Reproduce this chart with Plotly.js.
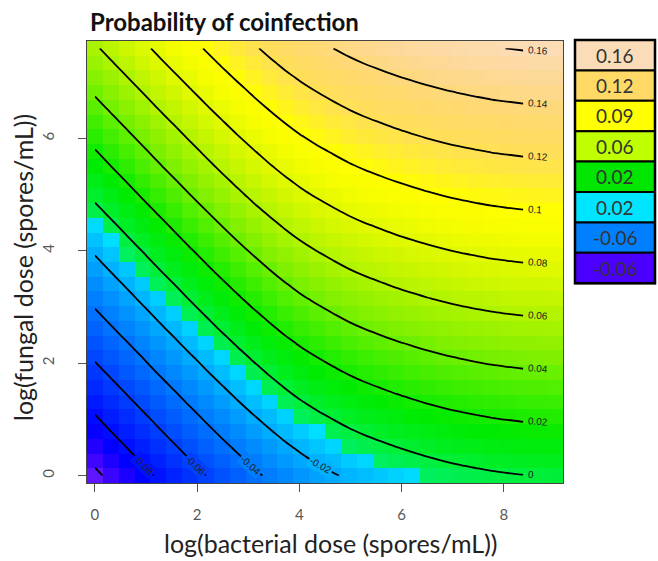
<!DOCTYPE html>
<html>
<head>
<meta charset="utf-8">
<script src="https://cdn.plot.ly/plotly-3.0.1.min.js"></script>
<style>html,body{margin:0;padding:0;background:#fff;}#chart{width:658px;height:561px;}</style>
</head>
<body>
<div id="chart"></div>
<script>
// log(bacterial dose) grid (columns) and log(fungal dose) grid (rows)
const bacterialDose = [0, 0.31, 0.621, 0.931, 1.241, 1.552, 1.862, 2.172, 2.483, 2.793, 3.103, 3.414, 3.724, 4.034, 4.345, 4.655, 4.966, 5.276, 5.586, 5.897, 6.207, 6.517, 6.828, 7.138, 7.448, 7.759, 8.069, 8.379, 8.69, 9.0];
const fungalDose = [0, 0.262, 0.524, 0.786, 1.048, 1.31, 1.572, 1.834, 2.097, 2.359, 2.621, 2.883, 3.145, 3.407, 3.669, 3.931, 4.193, 4.455, 4.717, 4.979, 5.241, 5.503, 5.766, 6.028, 6.29, 6.552, 6.814, 7.076, 7.338, 7.6];

// probability of coinfection, one row per fungal dose (bottom to top)
const probability = [
[-0.1030,-0.0968,-0.0906,-0.0844,-0.0782,-0.0721,-0.0660,-0.0600,-0.0541,-0.0484,-0.0429,-0.0377,-0.0328,-0.0284,-0.0246,-0.0212,-0.0180,-0.0153,-0.0130,-0.0108,-0.0089,-0.0071,-0.0055,-0.0041,-0.0029,-0.0018,-0.0010,-0.0003,0.0002,0.0006],
[-0.0974,-0.0912,-0.0850,-0.0788,-0.0726,-0.0665,-0.0604,-0.0544,-0.0485,-0.0428,-0.0373,-0.0321,-0.0272,-0.0228,-0.0190,-0.0156,-0.0124,-0.0097,-0.0074,-0.0052,-0.0033,-0.0015,0.0001,0.0015,0.0027,0.0038,0.0046,0.0053,0.0058,0.0062],
[-0.0919,-0.0857,-0.0795,-0.0733,-0.0671,-0.0610,-0.0549,-0.0489,-0.0430,-0.0373,-0.0318,-0.0266,-0.0217,-0.0173,-0.0135,-0.0101,-0.0069,-0.0042,-0.0019,0.0003,0.0022,0.0040,0.0056,0.0070,0.0082,0.0093,0.0101,0.0108,0.0113,0.0117],
[-0.0863,-0.0801,-0.0739,-0.0677,-0.0615,-0.0554,-0.0493,-0.0433,-0.0374,-0.0317,-0.0262,-0.0210,-0.0161,-0.0117,-0.0079,-0.0045,-0.0013,0.0014,0.0037,0.0059,0.0078,0.0096,0.0112,0.0126,0.0138,0.0149,0.0157,0.0164,0.0169,0.0173],
[-0.0808,-0.0746,-0.0684,-0.0622,-0.0560,-0.0499,-0.0438,-0.0378,-0.0319,-0.0262,-0.0207,-0.0155,-0.0106,-0.0062,-0.0024,0.0010,0.0042,0.0069,0.0092,0.0114,0.0133,0.0151,0.0167,0.0181,0.0193,0.0204,0.0212,0.0219,0.0224,0.0228],
[-0.0752,-0.0690,-0.0628,-0.0566,-0.0504,-0.0443,-0.0382,-0.0322,-0.0263,-0.0206,-0.0151,-0.0099,-0.0050,-0.0006,0.0032,0.0066,0.0098,0.0125,0.0148,0.0170,0.0189,0.0207,0.0223,0.0237,0.0249,0.0260,0.0268,0.0275,0.0280,0.0284],
[-0.0697,-0.0635,-0.0573,-0.0511,-0.0449,-0.0388,-0.0327,-0.0267,-0.0208,-0.0151,-0.0096,-0.0044,0.0005,0.0049,0.0087,0.0121,0.0153,0.0180,0.0203,0.0225,0.0244,0.0262,0.0278,0.0292,0.0304,0.0315,0.0323,0.0330,0.0335,0.0339],
[-0.0641,-0.0579,-0.0517,-0.0455,-0.0393,-0.0332,-0.0271,-0.0211,-0.0152,-0.0095,-0.0040,0.0012,0.0061,0.0105,0.0143,0.0177,0.0209,0.0236,0.0259,0.0281,0.0300,0.0318,0.0334,0.0348,0.0360,0.0371,0.0379,0.0386,0.0391,0.0395],
[-0.0586,-0.0524,-0.0462,-0.0400,-0.0338,-0.0277,-0.0216,-0.0156,-0.0097,-0.0040,0.0015,0.0067,0.0116,0.0160,0.0198,0.0232,0.0264,0.0291,0.0314,0.0336,0.0355,0.0373,0.0389,0.0403,0.0415,0.0426,0.0434,0.0441,0.0446,0.0450],
[-0.0530,-0.0468,-0.0406,-0.0344,-0.0282,-0.0221,-0.0160,-0.0100,-0.0041,0.0016,0.0071,0.0123,0.0172,0.0216,0.0254,0.0288,0.0320,0.0347,0.0370,0.0392,0.0411,0.0429,0.0445,0.0459,0.0471,0.0482,0.0490,0.0497,0.0502,0.0506],
[-0.0474,-0.0412,-0.0350,-0.0288,-0.0226,-0.0165,-0.0104,-0.0044,0.0015,0.0072,0.0127,0.0179,0.0228,0.0272,0.0310,0.0344,0.0376,0.0403,0.0426,0.0448,0.0467,0.0485,0.0501,0.0515,0.0527,0.0538,0.0546,0.0553,0.0558,0.0562],
[-0.0419,-0.0357,-0.0295,-0.0233,-0.0171,-0.0110,-0.0049,0.0011,0.0070,0.0127,0.0182,0.0234,0.0283,0.0327,0.0365,0.0399,0.0431,0.0458,0.0481,0.0503,0.0522,0.0540,0.0556,0.0570,0.0582,0.0593,0.0601,0.0608,0.0613,0.0617],
[-0.0363,-0.0301,-0.0239,-0.0177,-0.0115,-0.0054,0.0007,0.0067,0.0126,0.0183,0.0238,0.0290,0.0339,0.0383,0.0421,0.0455,0.0487,0.0514,0.0537,0.0559,0.0578,0.0596,0.0612,0.0626,0.0638,0.0649,0.0657,0.0664,0.0669,0.0673],
[-0.0308,-0.0246,-0.0184,-0.0122,-0.0060,0.0001,0.0062,0.0122,0.0181,0.0238,0.0293,0.0345,0.0394,0.0438,0.0476,0.0510,0.0542,0.0569,0.0592,0.0614,0.0633,0.0651,0.0667,0.0681,0.0693,0.0704,0.0712,0.0719,0.0724,0.0728],
[-0.0252,-0.0190,-0.0128,-0.0066,-0.0004,0.0057,0.0118,0.0178,0.0237,0.0294,0.0349,0.0401,0.0450,0.0494,0.0532,0.0566,0.0598,0.0625,0.0648,0.0670,0.0689,0.0707,0.0723,0.0737,0.0749,0.0760,0.0768,0.0775,0.0780,0.0784],
[-0.0197,-0.0135,-0.0073,-0.0011,0.0051,0.0112,0.0173,0.0233,0.0292,0.0349,0.0404,0.0456,0.0505,0.0549,0.0587,0.0621,0.0653,0.0680,0.0703,0.0725,0.0744,0.0762,0.0778,0.0792,0.0804,0.0815,0.0823,0.0830,0.0835,0.0839],
[-0.0141,-0.0079,-0.0017,0.0045,0.0107,0.0168,0.0229,0.0289,0.0348,0.0405,0.0460,0.0512,0.0561,0.0605,0.0643,0.0677,0.0709,0.0736,0.0759,0.0781,0.0800,0.0818,0.0834,0.0848,0.0860,0.0871,0.0879,0.0886,0.0891,0.0895],
[-0.0086,-0.0024,0.0038,0.0100,0.0162,0.0223,0.0284,0.0344,0.0403,0.0460,0.0515,0.0567,0.0616,0.0660,0.0698,0.0732,0.0764,0.0791,0.0814,0.0836,0.0855,0.0873,0.0889,0.0903,0.0915,0.0926,0.0934,0.0941,0.0946,0.0950],
[-0.0030,0.0032,0.0094,0.0156,0.0218,0.0279,0.0340,0.0400,0.0459,0.0516,0.0571,0.0623,0.0672,0.0716,0.0754,0.0788,0.0820,0.0847,0.0870,0.0892,0.0911,0.0929,0.0945,0.0959,0.0971,0.0982,0.0990,0.0997,0.1002,0.1006],
[0.0026,0.0088,0.0150,0.0212,0.0274,0.0335,0.0396,0.0456,0.0515,0.0572,0.0627,0.0679,0.0728,0.0772,0.0810,0.0844,0.0876,0.0903,0.0926,0.0948,0.0967,0.0985,0.1001,0.1015,0.1027,0.1038,0.1046,0.1053,0.1058,0.1062],
[0.0081,0.0143,0.0205,0.0267,0.0329,0.0390,0.0451,0.0511,0.0570,0.0627,0.0682,0.0734,0.0783,0.0827,0.0865,0.0899,0.0931,0.0958,0.0981,0.1003,0.1022,0.1040,0.1056,0.1070,0.1082,0.1093,0.1101,0.1108,0.1113,0.1117],
[0.0137,0.0199,0.0261,0.0323,0.0385,0.0446,0.0507,0.0567,0.0626,0.0683,0.0738,0.0790,0.0839,0.0883,0.0921,0.0955,0.0987,0.1014,0.1037,0.1059,0.1078,0.1096,0.1112,0.1126,0.1138,0.1149,0.1157,0.1164,0.1169,0.1173],
[0.0192,0.0254,0.0316,0.0378,0.0440,0.0501,0.0562,0.0622,0.0681,0.0738,0.0793,0.0845,0.0894,0.0938,0.0976,0.1010,0.1042,0.1069,0.1092,0.1114,0.1133,0.1151,0.1167,0.1181,0.1193,0.1204,0.1212,0.1219,0.1224,0.1228],
[0.0248,0.0310,0.0372,0.0434,0.0496,0.0557,0.0618,0.0678,0.0737,0.0794,0.0849,0.0901,0.0950,0.0994,0.1032,0.1066,0.1098,0.1125,0.1148,0.1170,0.1189,0.1207,0.1223,0.1237,0.1249,0.1260,0.1268,0.1275,0.1280,0.1284],
[0.0303,0.0365,0.0427,0.0489,0.0551,0.0612,0.0673,0.0733,0.0792,0.0849,0.0904,0.0956,0.1005,0.1049,0.1087,0.1121,0.1153,0.1180,0.1203,0.1225,0.1244,0.1262,0.1278,0.1292,0.1304,0.1315,0.1323,0.1330,0.1335,0.1339],
[0.0359,0.0421,0.0483,0.0545,0.0607,0.0668,0.0729,0.0789,0.0848,0.0905,0.0960,0.1012,0.1061,0.1105,0.1143,0.1177,0.1209,0.1236,0.1259,0.1281,0.1300,0.1318,0.1334,0.1348,0.1360,0.1371,0.1379,0.1386,0.1391,0.1395],
[0.0414,0.0476,0.0538,0.0600,0.0662,0.0723,0.0784,0.0844,0.0903,0.0960,0.1015,0.1067,0.1116,0.1160,0.1198,0.1232,0.1264,0.1291,0.1314,0.1336,0.1355,0.1373,0.1389,0.1403,0.1415,0.1426,0.1434,0.1441,0.1446,0.1450],
[0.0470,0.0532,0.0594,0.0656,0.0718,0.0779,0.0840,0.0900,0.0959,0.1016,0.1071,0.1123,0.1172,0.1216,0.1254,0.1288,0.1320,0.1347,0.1370,0.1392,0.1411,0.1429,0.1445,0.1459,0.1471,0.1482,0.1490,0.1497,0.1502,0.1506],
[0.0526,0.0588,0.0650,0.0712,0.0774,0.0835,0.0896,0.0956,0.1015,0.1072,0.1127,0.1179,0.1228,0.1272,0.1310,0.1344,0.1376,0.1403,0.1426,0.1448,0.1467,0.1485,0.1501,0.1515,0.1527,0.1538,0.1546,0.1553,0.1558,0.1562],
[0.0581,0.0643,0.0705,0.0767,0.0829,0.0890,0.0951,0.1011,0.1070,0.1127,0.1182,0.1234,0.1283,0.1327,0.1365,0.1399,0.1431,0.1458,0.1481,0.1503,0.1522,0.1540,0.1556,0.1570,0.1582,0.1593,0.1601,0.1608,0.1613,0.1617]
];

// contour levels that carry a label
const labelLevels = [-0.08, -0.06, -0.04, -0.02, 0, 0.02, 0.04, 0.06, 0.08, 0.1, 0.12, 0.14, 0.16];
const labelTexts  = ['-0.08', '-0.06', '-0.04', '-0.02', '0', '0.02', '0.04', '0.06', '0.08', '0.1', '0.12', '0.14', '0.16'];

// legend (as in the figure)
const legendLabels = ['0.16', '0.12', '0.09', '0.06', '0.02', '0.02', '-0.06', '-0.06'];
const legendColors = ['#FBDCB9', '#FFD966', '#FFFF00', '#BFFF00', '#00E600', '#00E5FF', '#0080FF', '#4B00FF'];

// ---- styling ----
const zmin = -0.105, zmax = 0.165;
const colorStops = [
  [-0.105, '#6A1AFF'], [-0.095, '#3000FF'], [-0.085, '#0000FF'], [-0.07, '#0028FF'],
  [-0.05, '#005CFF'], [-0.03, '#0090FF'], [-0.015, '#00BEFF'], [-0.0076, '#00E0FF'],
  [-0.0076, '#00F060'], [0.005, '#00EE20'], [0.015, '#00EB00'], [0.03, '#40EE00'],
  [0.045, '#80F000'], [0.06, '#B0F400'], [0.075, '#D8F800'], [0.09, '#F5FD00'],
  [0.10, '#FFFF00'], [0.11, '#FFEE30'], [0.12, '#FFE055'], [0.135, '#FFD970'],
  [0.15, '#FDD998'], [0.165, '#FCDDBC']
];
const colorscale = colorStops.map(([z, c], k) => {
  let p = (z - zmin) / (zmax - zmin);
  if (k === 0) p = 0;
  if (k === colorStops.length - 1) p = 1;
  return [Math.round(p * 1e6) / 1e6, c];
});

function hexToRgb(h) { return [parseInt(h.substr(1,2),16), parseInt(h.substr(3,2),16), parseInt(h.substr(5,2),16)]; }
function colorAt(z) {
  for (let k = 0; k < colorStops.length - 1; k++) {
    const [z0, c0] = colorStops[k], [z1, c1] = colorStops[k+1];
    if (z >= z0 && z < z1) {
      const t = (z - z0) / (z1 - z0);
      const a = hexToRgb(c0), b = hexToRgb(c1);
      return 'rgb(' + a.map((v, i) => Math.round(v + (b[i] - v) * t)).join(',') + ')';
    }
  }
  return colorStops[colorStops.length - 1][1];
}

// contour grid stops at the column before the labels
const lastCol = 27;
const contourX = bacterialDose.slice(0, lastCol + 1);
const contourZ = probability.map(r => r.slice(0, lastCol + 1));

// geometry
const W = 658, H = 561, mL = 87, mR = 95, mT = 41, mB = 78;
const plotW = W - mL - mR, plotH = H - mT - mB;
const xRange = [-0.155, 9.155], yRange = [-0.131, 7.731];
const sx = plotW / (xRange[1] - xRange[0]), sy = plotH / (yRange[1] - yRange[0]);
const px2paperX = px => (px - mL) / plotW;
const px2paperY = py => (H - mB - py) / plotH;

function labelAngle(i, j) {
  const i1 = Math.min(i + 1, bacterialDose.length - 1), i0 = i1 - 1;
  const j1 = Math.min(j + 1, fungalDose.length - 1), j0 = j1 - 1;
  const dzdx = (probability[j][i1] - probability[j][i0]) / (bacterialDose[i1] - bacterialDose[i0]);
  const dzdy = (probability[j1][i] - probability[j0][i]) / (fungalDose[j1] - fungalDose[j0]);
  return Math.atan2(dzdx * sy, dzdy * sx) * 180 / Math.PI;
}

const annotations = [];
const labelFont = {family: 'Liberation Sans, Arial, sans-serif', size: 10, color: '#222'};
labelLevels.forEach((L, k) => {
  // crossing along the last contour column
  let yc = null, jc = 0;
  for (let j = 0; j < fungalDose.length - 1; j++) {
    const a = probability[j][lastCol], b = probability[j+1][lastCol];
    if ((a - L) * (b - L) <= 0 && a !== b) {
      yc = fungalDose[j] + (L - a) / (b - a) * (fungalDose[j+1] - fungalDose[j]);
      jc = j; break;
    }
  }
  if (yc !== null) {
    annotations.push({x: bacterialDose[lastCol], y: yc, xref: 'x', yref: 'y', text: labelTexts[k],
      showarrow: false, xanchor: 'left', yanchor: 'middle', xshift: 2,
      textangle: labelAngle(lastCol, jc), font: labelFont});
  } else {
    // crossing along a line just above the bottom edge
    const yl = 0.18, t = (yl - fungalDose[0]) / (fungalDose[1] - fungalDose[0]);
    const row = probability[0].map((v, i) => v + (probability[1][i] - v) * t);
    for (let i = 0; i < row.length - 1; i++) {
      if ((row[i] - L) * (row[i+1] - L) <= 0 && row[i] !== row[i+1]) {
        const xc = bacterialDose[i] + (L - row[i]) / (row[i+1] - row[i]) * (bacterialDose[i+1] - bacterialDose[i]);
        const ci = Math.round(xc / (bacterialDose[1] - bacterialDose[0]));
        annotations.push({x: xc, y: yl, xref: 'x', yref: 'y', text: labelTexts[k],
          showarrow: false, xanchor: 'center', yanchor: 'middle',
          textangle: labelAngle(i, 0), font: labelFont,
          bgcolor: colorAt(probability[1][ci]), borderpad: 1});
        break;
      }
    }
  }
});

const textFont = 'Lato, "Open Sans", sans-serif';
annotations.push({xref: 'paper', yref: 'paper', x: px2paperX(88), y: px2paperY(22), xanchor: 'left', yanchor: 'middle',
  text: '<b>Probability of coinfection</b>', showarrow: false, font: {family: textFont, size: 24, color: '#111'}});
annotations.push({xref: 'paper', yref: 'paper', x: px2paperX(331), y: px2paperY(543), xanchor: 'center', yanchor: 'middle',
  text: 'log(bacterial dose (spores/mL))', showarrow: false, font: {family: textFont, size: 25, color: '#222'}});
annotations.push({xref: 'paper', yref: 'paper', x: px2paperX(23), y: px2paperY(268), xanchor: 'center', yanchor: 'middle',
  text: 'log(fungal dose (spores/mL))', textangle: -90, showarrow: false, font: {family: textFont, size: 25, color: '#222'}});

// legend boxes
const shapes = [];
const legX0 = 575, legX1 = 655, legTop = 40, legRow = 30.4;
legendLabels.forEach((lab, k) => {
  const top = legTop + k * legRow, bot = top + legRow;
  shapes.push({type: 'rect', xref: 'paper', yref: 'paper', x0: px2paperX(legX0), x1: px2paperX(legX1),
    y0: px2paperY(bot), y1: px2paperY(top), fillcolor: legendColors[k], line: {color: '#000', width: 2}});
  annotations.push({xref: 'paper', yref: 'paper', x: px2paperX((legX0 + legX1) / 2), y: px2paperY((top + bot) / 2),
    xanchor: 'center', yanchor: 'middle', text: lab, showarrow: false, font: {family: textFont, size: 19, color: '#333'}});
});
shapes.push({type: 'rect', xref: 'paper', yref: 'paper', x0: px2paperX(legX0), x1: px2paperX(legX1),
  y0: px2paperY(legTop + 8 * legRow), y1: px2paperY(legTop), line: {color: '#000', width: 2.5}});

const traces = [
  {type: 'heatmap', x: bacterialDose, y: fungalDose, z: probability, colorscale: colorscale,
   zmin: zmin, zmax: zmax, zsmooth: false, showscale: false, hoverinfo: 'skip'},
  {type: 'contour', x: contourX, y: fungalDose, z: contourZ, showscale: false, hoverinfo: 'skip',
   contours: {coloring: 'none', start: -0.1, end: 0.1601, size: 0.02, showlabels: false},
   line: {color: '#000', width: 1.8, smoothing: 1}}
];

const axisCommon = {ticks: 'outside', ticklen: 8, tickwidth: 1, tickcolor: '#555',
  tickfont: {family: textFont, size: 15, color: '#595959'}, showgrid: false, zeroline: false,
  showline: true, mirror: true, linecolor: '#444', linewidth: 1, fixedrange: true};

const layout = {
  width: W, height: H, margin: {l: mL, r: mR, t: mT, b: mB, pad: 0},
  paper_bgcolor: '#fff', plot_bgcolor: '#fff', showlegend: false,
  xaxis: Object.assign({}, axisCommon, {range: xRange, tickvals: [0, 2, 4, 6, 8], ticklabelstandoff: 10}),
  yaxis: Object.assign({}, axisCommon, {range: yRange, tickvals: [0, 2, 4, 6], tickangle: -90, ticklabelstandoff: 18}),
  annotations: annotations, shapes: shapes
};

Plotly.newPlot('chart', traces, layout, {displayModeBar: false, staticPlot: true});
</script>
</body>
</html>
